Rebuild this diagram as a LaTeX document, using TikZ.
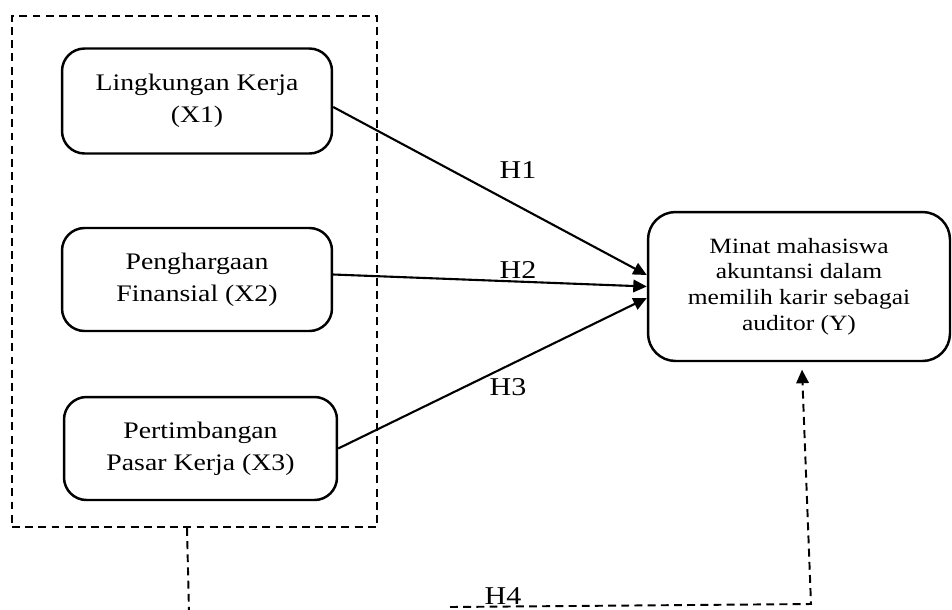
\documentclass[tikz,border=0pt]{standalone}
\usepackage{fontspec}
\setmainfont[FakeStretch=1.17]{Liberation Serif}
\usetikzlibrary{arrows.meta}
\tikzset{
  varbox/.style={rectangle, draw, line width=1.4pt, rounded corners=0.45cm,
    minimum width=5.4cm, minimum height=2.1cm, align=center,
    font=\fontsize{13.5}{18}\selectfont},
  depbox/.style={varbox, rounded corners=0.55cm, minimum width=6.04cm,
    minimum height=2.98cm, font=\fontsize{12.4}{14.6}\selectfont},
  groupbox/.style={rectangle, draw, line width=1.1pt, dash pattern=on 4.5pt off 3pt,
    minimum width=7.3cm, minimum height=10.22cm},
  hlabel/.style={inner sep=0pt, font=\fontsize{14.6}{16}\selectfont},
  arr/.style={-{Triangle[length=2.7mm, width=2.5mm]}, line width=1.2pt},
  dasharr/.style={-{Triangle[length=2.7mm, width=2.5mm]}, line width=1.1pt,
    dash pattern=on 4.5pt off 3pt},
  dashline/.style={line width=1.1pt, dash pattern=on 4.5pt off 3pt},
}

\begin{document}
\begin{tikzpicture}[x=0.02cm, y=-0.02cm]
  \useasboundingbox (0,0) rectangle (952,609);

  % independent variables
  \node[groupbox] (grp) at (194.5,271.5) {};
  \node[varbox] (x1) at (197,101) {Lingkungan Kerja\\(X1)};
  \node[varbox, minimum height=2.06cm] (x2) at (197,279.5) {Penghargaan\\Finansial (X2)};
  \node[varbox, minimum width=5.46cm, minimum height=2.06cm] (x3) at (200.5,448.5) {Pertimbangan\\Pasar Kerja (X3)};

  % dependent variable
  \node[depbox] (y) at (799,286.5) {Minat mahasiswa\\akuntansi dalam\\memilih karir sebagai\\auditor (Y)};

  % partial hypotheses
  \draw[arr] ([yshift=-0.12cm]x1.east) -- ([yshift=0.23cm]y.west);
  \draw[arr] ([yshift=0.1cm]x2.east) -- (y.west);
  \draw[arr] (x3.east) -- ([yshift=-0.23cm]y.west);

  \node[hlabel] (h1) at (518,170) {H1};
  \node[hlabel] (h2) at (518,270) {H2};
  \node[hlabel] (h3) at (508,387) {H3};

  % simultaneous hypothesis
  \coordinate (gend) at (189,612);
  \coordinate (h4s) at (450,607);
  \coordinate (h4c) at (811,604);
  \draw[dashline] ([xshift=-0.15cm]grp.south) -- (gend);
  \draw[dasharr] (h4s) -- (h4c) -- ([xshift=0.06cm, yshift=-0.15cm]y.south);
  \node[hlabel] (h4) at (503,596) {H4};
\end{tikzpicture}
\end{document}
